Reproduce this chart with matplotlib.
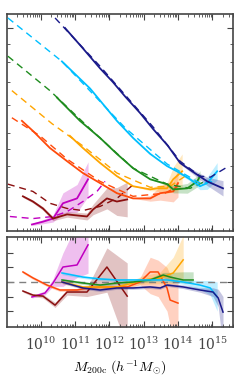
import matplotlib
matplotlib.use("Agg")
import matplotlib.pyplot as plt
import numpy as np
from matplotlib.ticker import FixedLocator, NullFormatter, LogLocator

plt.rcParams["mathtext.fontset"] = "cm"
plt.rcParams["font.family"] = "serif"
plt.rcParams["font.serif"] = ["DejaVu Serif"]

# ---- colours per sample ----
C_NAVY = "#1a1a8a"
C_SKY = "#00bfff"
C_GREEN = "#1e8c1e"
C_ORANGE = "#ffa500"
C_RED = "#ff4a0a"
C_BROWN = "#8b1010"
C_MAG = "#c000c0"

# ---- top panel: measured (solid), log10 mass / log10 value ----
navy_m = [10.71, 11.2, 11.73, 12.1, 12.46, 12.9, 13.27, 13.7, 14.06, 14.41, 14.85, 15.31]
navy_y = [1.0, 0.945, 0.884, 0.845, 0.803, 0.755, 0.71, 0.662, 0.612, 0.588, 0.559, 0.539]
navy_e = [0.0, 0.0, 0.0, 0.0, 0.0, 0.0, 0.0, 0.0, 0.003, 0.006, 0.012, 0.022]
sky_m = [10.62, 11.44, 12.22, 12.69, 13.19, 13.68, 13.97, 14.35, 14.64, 14.85, 15.14]
sky_y = [0.904, 0.826, 0.733, 0.684, 0.638, 0.603, 0.588, 0.565, 0.545, 0.554, 0.588]
sky_e = [0.0, 0.0, 0.0, 0.0, 0.0, 0.0, 0.003, 0.005, 0.01, 0.018, 0.025]
green_m = [10.475, 11.146, 11.73, 12.22, 12.69, 13.19, 13.68, 13.86, 14.27, 14.56, 14.64]
green_y = [0.8, 0.733, 0.684, 0.638, 0.597, 0.565, 0.551, 0.536, 0.539, 0.559, 0.574]
green_e = [0.0, 0.0, 0.0, 0.0, 0.0, 0.0, 0.004, 0.01, 0.014, 0.016, 0.016]
orange_m = [10.85, 11.23, 11.73, 12.22, 12.69, 13.19, 13.39, 13.68, 13.86, 14.12]
orange_y = [0.69, 0.655, 0.612, 0.574, 0.545, 0.536, 0.539, 0.539, 0.565, 0.588]
orange_e = [0.0, 0.0, 0.0, 0.0, 0.0, 0.004, 0.008, 0.015, 0.035, 0.05]
red_m = [9.455, 9.776, 10.27, 10.77, 11.23, 11.73, 12.22, 12.69, 13.19, 13.48, 13.86, 14.0]
red_y = [0.733, 0.704, 0.655, 0.617, 0.583, 0.554, 0.525, 0.51, 0.51, 0.525, 0.53, 0.554]
red_e = [0.0, 0.0, 0.0, 0.0, 0.0, 0.0, 0.0, 0.0, 0.008, 0.02, 0.03, 0.04]
brown_m = [9.484, 9.776, 10.067, 10.36, 10.77, 11.35, 11.525, 11.93, 12.22, 12.52]
brown_y = [0.516, 0.501, 0.481, 0.452, 0.464, 0.458, 0.478, 0.51, 0.501, 0.507]
brown_e = [0.003, 0.004, 0.005, 0.006, 0.008, 0.01, 0.015, 0.03, 0.04, 0.05]
mag_m = [9.746, 10.067, 10.36, 10.65, 11.06, 11.38]
mag_y = [0.435, 0.443, 0.452, 0.496, 0.51, 0.565]
mag_e = [0.003, 0.006, 0.01, 0.03, 0.04, 0.05]

# ---- top panel: model (dashed) ----
navy_mm = [10.42, 11.73, 13.27, 14.06, 14.64, 14.94, 15.43]
navy_my = [1.029, 0.89, 0.716, 0.617, 0.574, 0.571, 0.6]
sky_mm = [9.047, 10.62, 12.46, 13.68, 14.64, 15.08]
sky_my = [1.029, 0.904, 0.713, 0.609, 0.554, 0.559]
green_mm = [9.047, 10.27, 11.44, 12.69, 13.68, 14.35, 14.79]
green_my = [0.919, 0.82, 0.71, 0.597, 0.551, 0.539, 0.559]
orange_mm = [9.163, 10.33, 11.23, 12.22, 13.19, 13.77, 14.21]
orange_my = [0.82, 0.725, 0.661, 0.583, 0.542, 0.545, 0.574]
red_mm = [9.163, 9.98, 10.77, 11.73, 12.69, 13.62, 14.0]
red_my = [0.742, 0.69, 0.623, 0.559, 0.516, 0.525, 0.545]
brown_mm = [9.047, 9.776, 10.27, 10.77, 11.23, 11.73, 12.22, 12.75]
brown_my = [0.551, 0.53, 0.496, 0.481, 0.475, 0.487, 0.51, 0.554]
mag_mm = [9.105, 9.776, 10.36, 10.77, 11.23, 11.64, 11.875]
mag_my = [0.458, 0.452, 0.458, 0.472, 0.501, 0.53, 0.559]

# ---- bottom panel: residuals ----
navy_rm = [10.62, 11.23, 11.73, 12.22, 12.69, 13.19, 13.48, 13.68, 14.15, 14.64, 15.02, 15.17, 15.31]
navy_r = [0.0, -0.041, -0.055, -0.041, -0.041, -0.034, -0.041, -0.021, -0.034, -0.055, -0.069, -0.11, -0.207]
navy_rlo = [-0.01, -0.05, -0.065, -0.05, -0.05, -0.045, -0.05, -0.03, -0.045, -0.07, -0.1, -0.17, -0.45]
navy_rhi = [0.01, -0.03, -0.045, -0.03, -0.03, -0.025, -0.03, -0.01, -0.02, -0.04, -0.04, -0.05, -0.1]
sky_rm = [10.62, 11.23, 11.73, 12.22, 12.69, 13.19, 13.68, 14.15, 14.64, 14.94, 15.14]
sky_r = [0.062, 0.034, 0.021, 0.014, 0.014, 0.014, 0.014, 0.0, -0.021, -0.041, -0.103]
sky_rlo = [0.05, 0.024, 0.011, 0.004, 0.004, 0.004, 0.0, -0.015, -0.05, -0.09, -0.2]
sky_rhi = [0.072, 0.044, 0.031, 0.024, 0.024, 0.024, 0.028, 0.015, 0.01, 0.01, 0.0]
green_rm = [10.62, 11.23, 11.73, 12.22, 12.69, 13.19, 13.57, 13.77, 14.15, 14.44]
green_r = [0.014, -0.007, -0.021, -0.007, 0.0, 0.014, 0.048, 0.034, 0.014, 0.014]
green_rlo = [0.004, -0.017, -0.031, -0.017, -0.012, 0.0, 0.03, 0.01, -0.007, -0.007]
green_rhi = [0.024, 0.003, -0.011, 0.003, 0.012, 0.028, 0.066, 0.066, 0.07, 0.07]
orange_rm = [10.62, 11.23, 11.73, 12.22, 12.69, 12.98, 13.48, 13.86, 14.15]
orange_r = [0.0, -0.034, -0.034, -0.034, -0.007, 0.014, 0.028, 0.062, 0.152]
orange_rlo = [-0.01, -0.044, -0.044, -0.044, -0.027, -0.016, -0.012, -0.01, 0.014]
orange_rhi = [0.01, -0.024, -0.024, -0.024, 0.013, 0.044, 0.068, 0.17, 0.32]
red_rm = [9.484, 9.776, 10.184, 10.56, 11.06, 11.525, 12.02, 12.52, 12.895, 13.19, 13.42, 13.68, 13.77, 14.0]
red_r = [0.069, 0.028, -0.021, -0.055, -0.055, -0.034, -0.034, -0.034, 0.0, 0.069, 0.069, -0.041, -0.124, -0.145]
red_rlo = [0.06, 0.018, -0.031, -0.065, -0.065, -0.044, -0.044, -0.044, -0.02, -0.08, -0.1, -0.2, -0.3, -0.45]
red_rhi = [0.078, 0.038, -0.011, -0.045, -0.045, -0.024, -0.024, -0.024, 0.03, 0.17, 0.15, 0.1, 0.05, 0.014]
brown_rm = [9.484, 9.776, 10.067, 10.42, 10.77, 11.35, 11.93, 12.52]
brown_r = [-0.062, -0.09, -0.097, -0.159, -0.069, -0.069, 0.103, -0.097]
brown_rlo = [-0.07, -0.1, -0.11, -0.175, -0.09, -0.1, -0.07, -0.45]
brown_rhi = [-0.055, -0.08, -0.085, -0.14, -0.05, -0.04, 0.234, 0.131]
mag_rm = [9.746, 10.125, 10.36, 10.65, 11.06, 11.38]
mag_r = [-0.103, -0.076, -0.007, 0.103, 0.117, 0.255]
mag_rlo = [-0.11, -0.09, -0.03, -0.03, 0.03, 0.06]
mag_rhi = [-0.095, -0.06, 0.02, 0.2, 0.4, 0.45]

X_TICKS = [1e10, 1e11, 1e12, 1e13, 1e14, 1e15]
Y_TICKS = [3, 3.5, 4, 4.5, 5, 6, 7, 8, 9]
R_TICKS = [-0.2, -0.1, 0.0, 0.1, 0.2]

SERIES = [
    (C_MAG, mag_m, mag_y, mag_e, mag_mm, mag_my, mag_rm, mag_r, mag_rlo, mag_rhi),
    (C_BROWN, brown_m, brown_y, brown_e, brown_mm, brown_my, brown_rm, brown_r, brown_rlo, brown_rhi),
    (C_RED, red_m, red_y, red_e, red_mm, red_my, red_rm, red_r, red_rlo, red_rhi),
    (C_ORANGE, orange_m, orange_y, orange_e, orange_mm, orange_my, orange_rm, orange_r, orange_rlo, orange_rhi),
    (C_GREEN, green_m, green_y, green_e, green_mm, green_my, green_rm, green_r, green_rlo, green_rhi),
    (C_SKY, sky_m, sky_y, sky_e, sky_mm, sky_my, sky_rm, sky_r, sky_rlo, sky_rhi),
    (C_NAVY, navy_m, navy_y, navy_e, navy_mm, navy_my, navy_rm, navy_r, navy_rlo, navy_rhi),
]


def style_axis(ax):
    ax.tick_params(which="both", direction="in", top=True, right=True,
                   colors="#444444")
    ax.tick_params(which="major", length=4, width=0.8)
    ax.tick_params(which="minor", length=2, width=0.6)
    for s in ax.spines.values():
        s.set_color("#444444")
        s.set_linewidth(1.2)


fig = plt.figure(figsize=(2.42, 3.76), dpi=100)
ax = fig.add_axes([0.029, 0.386, 0.934, 0.577])
axr = fig.add_axes([0.029, 0.130, 0.934, 0.240], sharex=ax)

for color, m, y, e, mm, my, rm, r, rlo, rhi in SERIES:
    m = 10 ** np.array(m)
    y = np.array(y)
    e = np.array(e)
    ax.fill_between(m, 10 ** (y - e), 10 ** (y + e), color=color,
                    alpha=0.25, lw=0)
    ax.plot(m, 10 ** y, color=color, lw=1.3, zorder=3)
    ax.plot(10 ** np.array(mm), 10 ** np.array(my), color=color, lw=1.0,
            ls=(0, (5, 3.5)), zorder=3)
    rm = 10 ** np.array(rm)
    axr.fill_between(rm, rlo, rhi, color=color, alpha=0.25, lw=0)
    axr.plot(rm, r, color=color, lw=1.1, zorder=3)

axr.axhline(0, color="gray", lw=1.0, ls=(0, (5, 3.5)), zorder=2)

ax.set_xscale("log")
ax.set_yscale("log")
ax.set_xlim(1.05e9, 4e15)
ax.set_ylim(2.61, 10.98)
ax.yaxis.set_major_locator(FixedLocator([10]))
ax.yaxis.set_minor_locator(FixedLocator(Y_TICKS))
ax.yaxis.set_major_formatter(NullFormatter())
ax.yaxis.set_minor_formatter(NullFormatter())
ax.xaxis.set_major_locator(FixedLocator(X_TICKS))
ax.xaxis.set_minor_locator(LogLocator(base=10, subs=np.arange(2, 10), numticks=20))
ax.xaxis.set_minor_formatter(NullFormatter())
ax.tick_params(labelbottom=False)

axr.set_ylim(-0.31, 0.31)
axr.yaxis.set_major_locator(FixedLocator(R_TICKS))
axr.yaxis.set_major_formatter(NullFormatter())
axr.tick_params(axis="x", labelsize=10, pad=6)
axr.set_xlabel(r"$M_{\rm 200c}\ (h^{-1}M_{\odot})$", fontsize=10, labelpad=4)

style_axis(ax)
style_axis(axr)

fig.savefig("out.png", dpi=100)
